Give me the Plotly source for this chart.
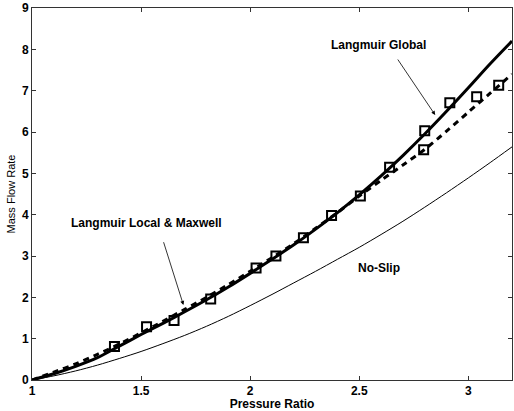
import plotly.graph_objects as go

# Pressure ratio grid for curves
pr = [1.0, 1.1, 1.2, 1.3, 1.4, 1.5, 1.6, 1.7, 1.8, 1.9, 2.0, 2.1, 2.2, 2.3,
      2.4, 2.5, 2.6, 2.7, 2.8, 2.9, 3.0, 3.1, 3.2]

langmuir_global = [0, 0.15, 0.33, 0.54, 0.82, 1.1, 1.37, 1.65, 1.94, 2.25, 2.58,
                   2.92, 3.27, 3.65, 4.05, 4.48, 4.94, 5.43, 5.95, 6.5, 7.07, 7.65, 8.2]

langmuir_local_maxwell = [0, 0.19, 0.39, 0.62, 0.87, 1.14, 1.42, 1.71, 2.0, 2.31, 2.63,
                          2.96, 3.3, 3.67, 4.05, 4.45, 4.83, 5.2, 5.58, 6.02, 6.48, 6.94, 7.4]

no_slip = [0, 0.1, 0.22, 0.36, 0.52, 0.69, 0.88, 1.08, 1.3, 1.54, 1.8, 2.07,
           2.35, 2.63, 2.92, 3.21, 3.52, 3.84, 4.18, 4.53, 4.89, 5.26, 5.64]

# Measured points (open squares)
data_x = [1.378, 1.525, 1.651, 1.819, 2.027, 2.118, 2.244, 2.373, 2.505, 2.639,
          2.795, 2.80, 2.915, 3.038, 3.139]
data_y = [0.81, 1.29, 1.44, 1.96, 2.71, 3.0, 3.44, 3.98, 4.45, 5.15,
          5.57, 6.03, 6.71, 6.85, 7.13]

x_ticks = [1, 1.5, 2, 2.5, 3]
x_tick_labels = ["1", "1.5", "2", "2.5", "3"]
y_ticks = [0, 1, 2, 3, 4, 5, 6, 7, 8, 9]
y_tick_labels = ["0", "1", "2", "3", "4", "5", "6", "7", "8", "9"]

FONT = "Liberation Sans, Arial, sans-serif"

fig = go.Figure()
fig.add_trace(go.Scatter(x=pr, y=no_slip, mode="lines",
                         line=dict(color="black", width=1, shape="spline", smoothing=0.8),
                         showlegend=False))
fig.add_trace(go.Scatter(x=pr, y=langmuir_global, mode="lines",
                         line=dict(color="black", width=3, shape="spline", smoothing=0.8),
                         showlegend=False))
fig.add_trace(go.Scatter(x=pr, y=langmuir_local_maxwell, mode="lines",
                         line=dict(color="black", width=3, dash="6px,5px",
                                   shape="spline", smoothing=0.8),
                         showlegend=False))
fig.add_trace(go.Scatter(x=data_x, y=data_y, mode="markers",
                         marker=dict(symbol="square-open", size=9, color="black",
                                     line=dict(width=2, color="black")),
                         showlegend=False))

# Labels and arrows
fig.add_annotation(x=2.59, y=8.11, xref="x", yref="y", text="<b>Langmuir Global</b>",
                   showarrow=False, font=dict(size=12, family=FONT, color="black"))
fig.add_annotation(x=2.848, y=6.41, ax=2.672, ay=7.79, xref="x", yref="y",
                   axref="x", ayref="y", text="", showarrow=True,
                   arrowhead=2, arrowsize=1, arrowwidth=0.8, arrowcolor="black")

fig.add_annotation(x=1.527, y=3.79, xref="x", yref="y",
                   text="<b>Langmuir Local &amp; Maxwell</b>",
                   showarrow=False, font=dict(size=12, family=FONT, color="black"))
fig.add_annotation(x=1.694, y=1.815, ax=1.601, ay=3.37, xref="x", yref="y",
                   axref="x", ayref="y", text="", showarrow=True,
                   arrowhead=2, arrowsize=1, arrowwidth=0.8, arrowcolor="black")

fig.add_annotation(x=2.59, y=2.71, xref="x", yref="y", text="<b>No-Slip</b>",
                   showarrow=False, font=dict(size=12, family=FONT, color="black"))

axis_common = dict(showline=True, mirror="ticks", linecolor="#333", linewidth=1,
                   ticks="inside", ticklen=4, tickcolor="#333", showgrid=False,
                   zeroline=False)

fig.update_layout(
    width=514, height=411,
    margin=dict(l=32, r=2, t=8, b=31),
    paper_bgcolor="white", plot_bgcolor="white",
    font=dict(family=FONT, color="black", size=12),
    xaxis=dict(range=[1, 3.2], tickvals=x_ticks, ticktext=["<b>%s</b>" % t for t in x_tick_labels],
               title=dict(text="<b>Pressure Ratio</b>", standoff=0, font=dict(size=12)),
               tickfont=dict(size=12), **axis_common),
    yaxis=dict(range=[0, 9], tickvals=y_ticks, ticktext=["<b>%s</b>" % t for t in y_tick_labels],
               title=dict(text="Mass Flow Rate", standoff=4, font=dict(size=11)),
               tickfont=dict(size=12), **axis_common),
)

fig.write_html("out.html")
